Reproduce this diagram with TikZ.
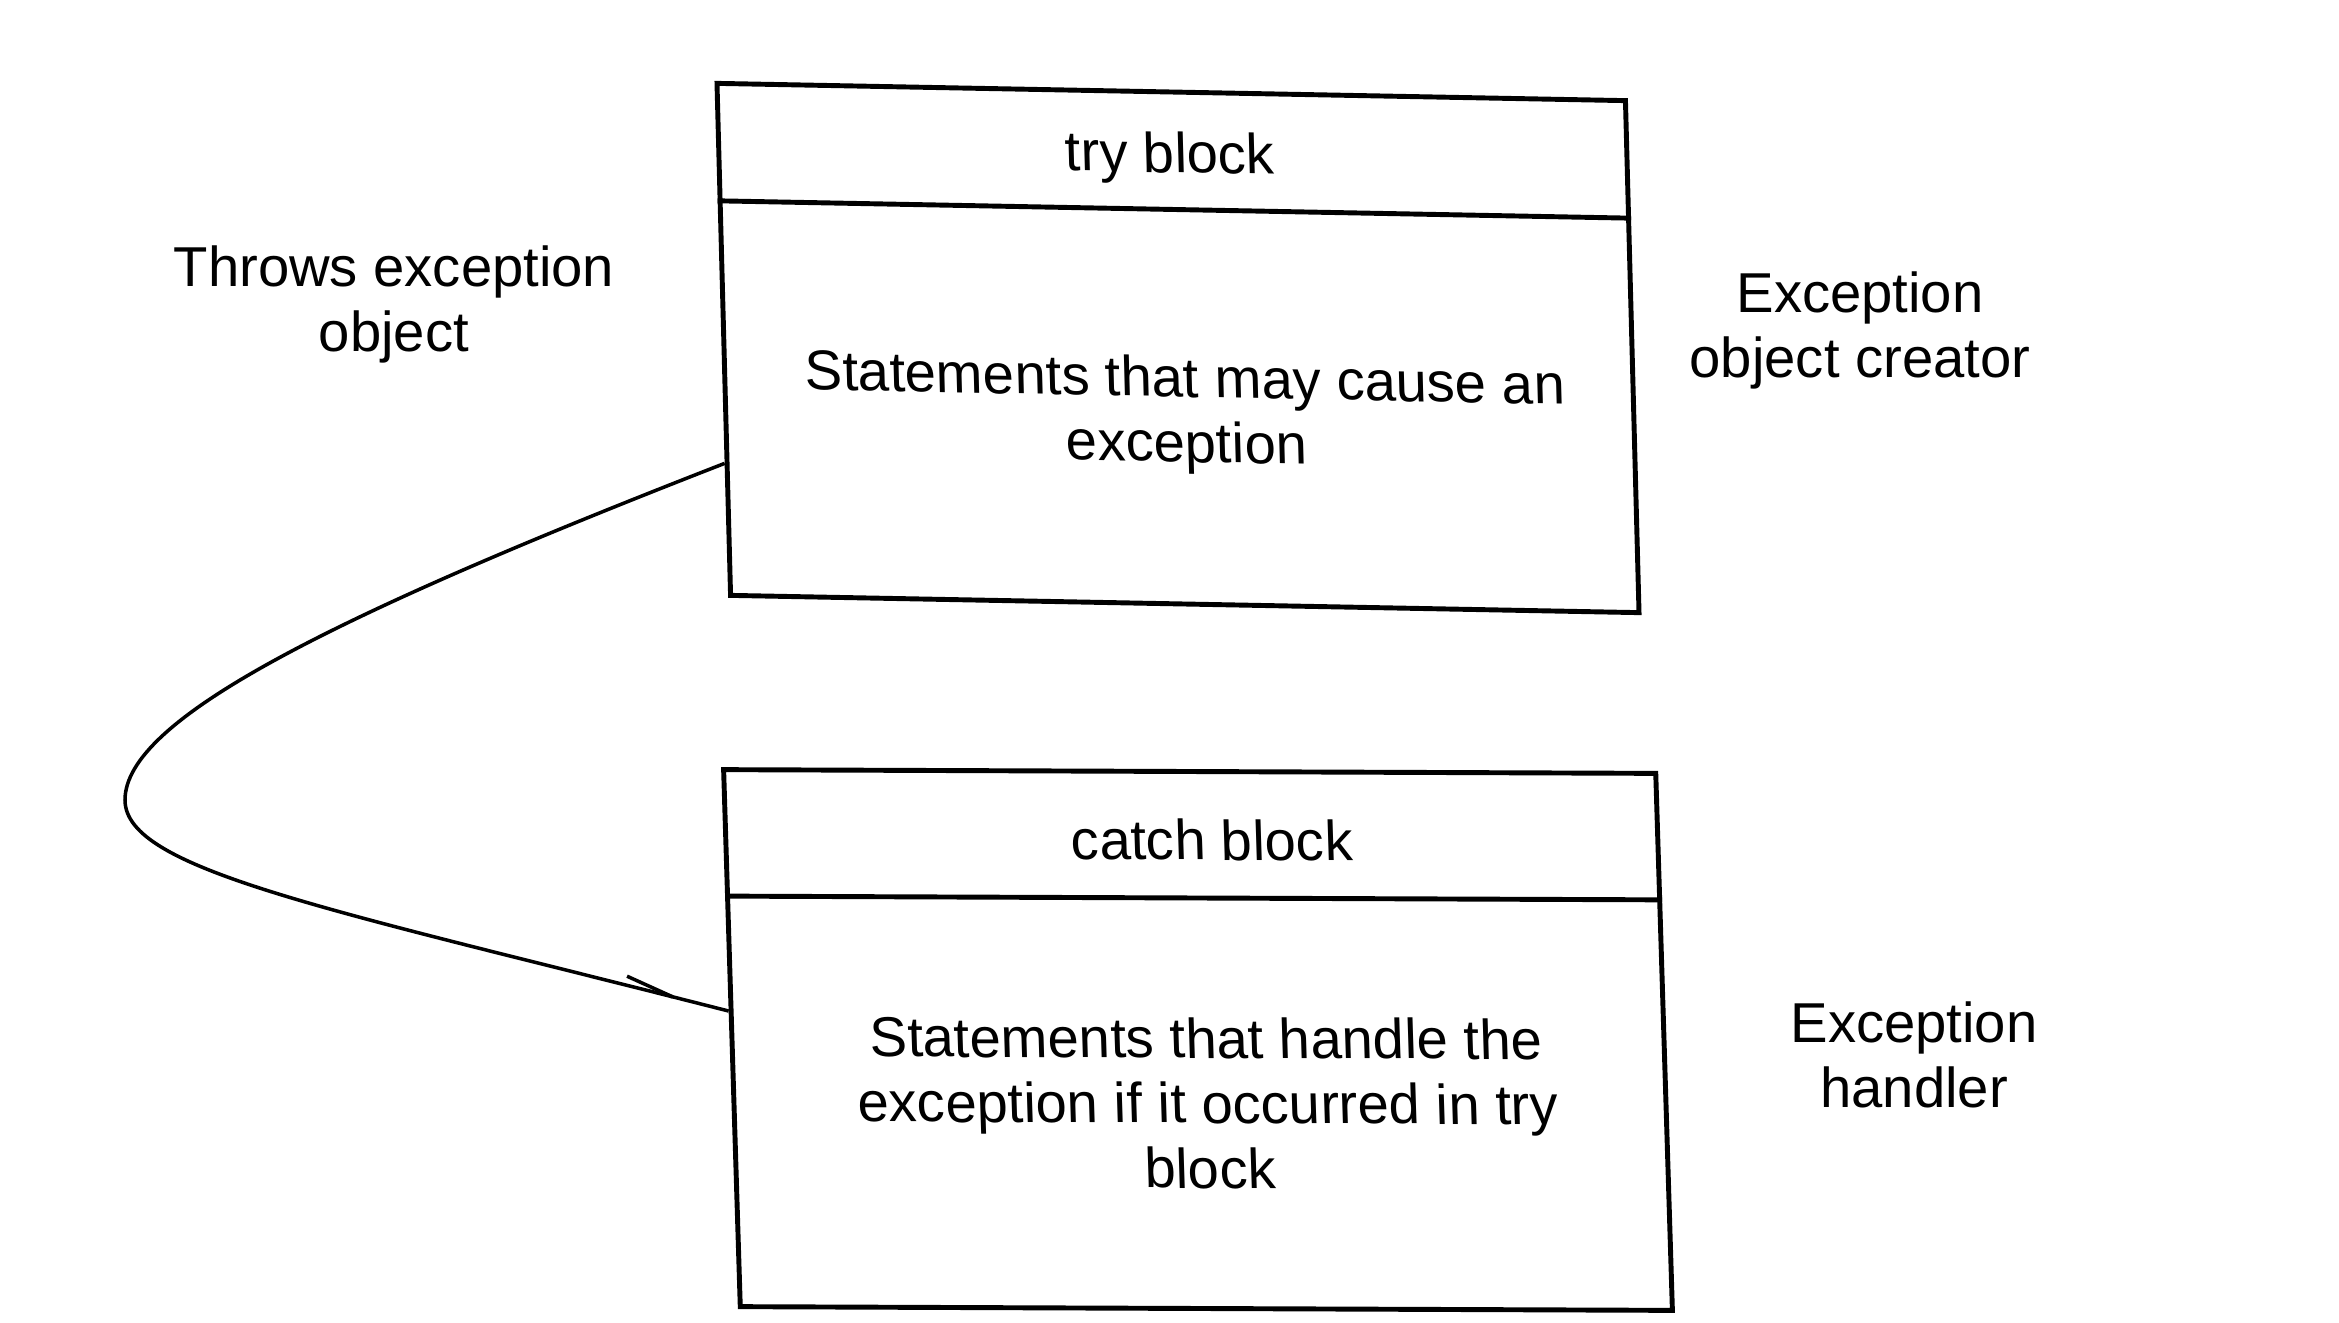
\documentclass[tikz,border=0pt]{standalone}
\usepackage{fontspec}
\setmainfont{Liberation Sans}
\usetikzlibrary{calc,arrows.meta,decorations.markings}
\begin{document}
\begin{tikzpicture}[
  box/.style={draw, line width=1.4pt, inner sep=0pt},
  divider/.style={line width=1.4pt},
  lbl/.style={align=center, font=\fontsize{16}{18.5}\selectfont, inner sep=0pt},
  flow/.style={line width=1pt},
  trysl/.style={xslant=-0.0265, yslant=-0.019},
  catchsl/.style={xslant=-0.031, yslant=-0.004}
]
\useasboundingbox[fill=white] (0,0) rectangle (23.39,-13.22);

% try block
\node[box, trysl, minimum width=9.08cm, minimum height=5.12cm] (try) at (11.78,-3.48) {};
\draw[divider] ($(try.north west)!1.20cm!(try.south west)$) -- ($(try.north east)!1.20cm!(try.south east)$);
\node[lbl, trysl] (tryhead) at (11.70,-1.58) {try block};
\node[lbl, trysl] (trybody) at (11.86,-4.15) {Statements that may cause an\\exception};

% catch block
\node[box, catchsl, minimum width=9.32cm, minimum height=5.37cm] (catch) at (11.98,-10.40) {};
\draw[divider] ($(catch.north west)!1.29cm!(catch.south west)$) -- ($(catch.north east)!1.29cm!(catch.south east)$);
\node[lbl, catchsl] (catchhead) at (12.12,-8.40) {catch block};
\node[lbl, catchsl] (catchbody) at (12.08,-11.03) {Statements that handle the\\exception if it occurred in try\\block};

% side labels
\node[lbl] (throws) at (3.94,-3.04) {Throws exception\\object};
\node[lbl] (creator) at (18.60,-3.30) {Exception\\object creator};
\node[lbl] (handler) at (19.14,-10.55) {Exception\\handler};

% connector
\coordinate (turn) at (1.25,-8.00);
\draw[flow, postaction={decorate},
  decoration={markings, mark=at position -0.38cm with {\arrow{Straight Barb[left,length=14pt,width=5pt,line width=1pt]}}}]
  ($(try.north west)!0.74!(try.south west)$)
  .. controls (3.27,-6.18) and (1.25,-7.20) .. (turn)
  .. controls (1.25,-8.70) and (3.29,-9.09) .. ($(catch.north west)!0.45!(catch.south west)$);
\end{tikzpicture}
\end{document}
